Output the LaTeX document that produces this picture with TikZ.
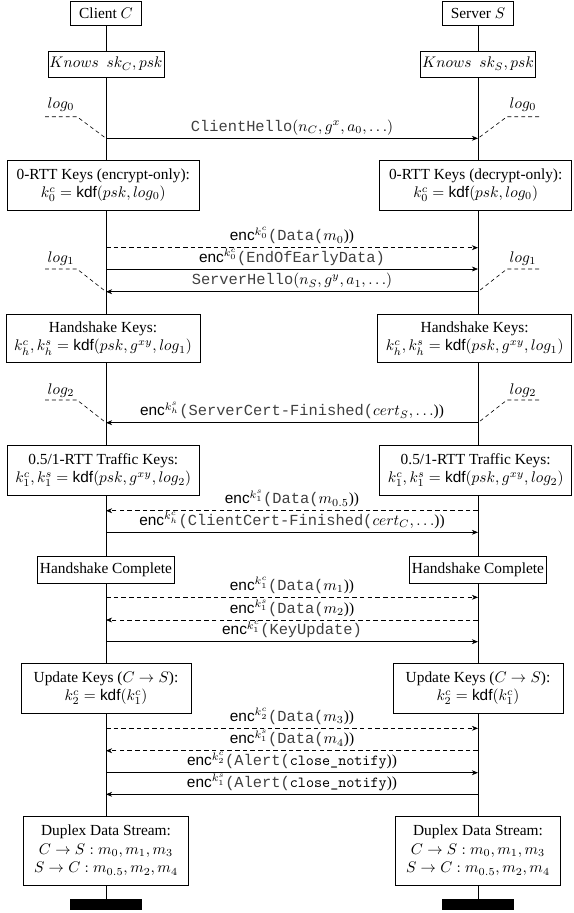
\documentclass[tikz,border=0pt]{standalone}
\usepackage[no-math]{fontspec}
\setmainfont{Liberation Serif}
\setsansfont{Liberation Sans}
\newfontfamily\courfont{Liberation Mono}
\usetikzlibrary{arrows.meta,backgrounds}
\newcommand\mtx[1]{\textcolor{black!75}{\courfont #1}}
\newcommand\encx[1]{$\textsf{enc}^{#1}$}
\begin{document}
\begin{tikzpicture}[x=0.65pt,y=-0.65pt,
  box/.style 2 args={draw, fill=white, align=center, inner sep=1pt,
    minimum width=#1*0.65pt, minimum height=#2*0.65pt},
  msg/.style={-{Stealth[length=4pt,width=3.2pt]}},
  dmsg/.style={msg, dash pattern=on 3pt off 2pt},
  logline/.style={dash pattern=on 2.5pt off 2pt},
  lbl/.style={midway, anchor=base, yshift=4.4pt, inner sep=0pt},
  loglbl/.style={anchor=base, inner sep=0pt},
  endbar/.style={fill=black, draw=black, inner sep=0pt,
    minimum width=71*0.65pt, minimum height=10*0.65pt}
]
\useasboundingbox (0,0) rectangle (573,913);

% instance heads and ends
\node[box={71}{24}] (C) at (106,13) {Client $C$};
\node[box={71}{24}] (S) at (478,13) {Server $S$};
\node[endbar] (CB) at (106,904) {};
\node[endbar] (SB) at (478,904) {};

% action boxes
\node[box={112}{26}] (kc) at (106,64) {$Knows\ \ sk_C, psk$};
\node[box={112}{26}] (ks) at (478,64) {$Knows\ \ sk_S, psk$};

\node[box={192}{50}] (zc) at (103.3,185) {0-RTT Keys (encrypt-only):\\ $k_0^c = \textsf{kdf}(psk, log_0)$};
\node[box={192}{50}] (zs) at (475.7,185) {0-RTT Keys (decrypt-only):\\ $k_0^c = \textsf{kdf}(psk, log_0)$};

\node[box={194}{48.5}] (hc) at (103,338.5) {Handshake Keys:\\ $k_h^c, k_h^s = \textsf{kdf}(psk, g^{xy}, log_1)$};
\node[box={194}{48.5}] (hs) at (474.7,338.5) {Handshake Keys:\\ $k_h^c, k_h^s = \textsf{kdf}(psk, g^{xy}, log_1)$};

\node[box={192}{50}] (tc) at (103.3,470) {0.5/1-RTT Traffic Keys:\\ $k_1^c, k_1^s = \textsf{kdf}(psk, g^{xy}, log_2)$};
\node[box={192}{50}] (ts) at (475.7,470) {0.5/1-RTT Traffic Keys:\\ $k_1^c, k_1^s = \textsf{kdf}(psk, g^{xy}, log_2)$};

\node[box={137}{27}] (dc) at (106,569.5) {Handshake Complete};
\node[box={137}{27}] (ds) at (478,569.5) {Handshake Complete};

\node[box={170}{50}] (uc) at (106,688.3) {Update Keys ($C \rightarrow S$):\\ $k_2^c = \textsf{kdf}(k_1^c)$};
\node[box={170}{50}] (us) at (478,688.3) {Update Keys ($C \rightarrow S$):\\ $k_2^c = \textsf{kdf}(k_1^c)$};

\node[box={165}{69}] (xc) at (106,850.5) {Duplex Data Stream:\\ $C \rightarrow S: m_0, m_1, m_3$\\ $S \rightarrow C: m_{0.5}, m_2, m_4$};
\node[box={165}{69}] (xs) at (478,850.5) {Duplex Data Stream:\\ $C \rightarrow S: m_0, m_1, m_3$\\ $S \rightarrow C: m_{0.5}, m_2, m_4$};

% lifelines behind the boxes
\begin{pgfonlayer}{background}
\draw (C.south) -- (CB.north);
\draw (S.south) -- (SB.north);
\end{pgfonlayer}

% message anchor points on the lifelines
\foreach \n/\y in {1/138.3, 2/247.7, 3/269, 4/291.7, 5/422.7, 6/510.7, 7/532.3,
                   8/597.3, 9/620, 10/641.7, 11/728.3, 12/750.7, 13/772.7, 14/794.3} {
  \coordinate (c\n) at (106,\y);
  \coordinate (s\n) at (478,\y);
}

% log markers
\foreach \k/\ly/\hy/\m in {0/108/116.7/1, 1/262/269/4, 2/394/400/5} {
  \node[loglbl] (logl\k) at (61,\ly) {$log_\k$};
  \node[loglbl] (logr\k) at (523,\ly) {$log_\k$};
  \coordinate (la\k) at (45,\hy);
  \coordinate (lb\k) at (77,\hy);
  \coordinate (ra\k) at (539,\hy);
  \coordinate (rb\k) at (507,\hy);
  \draw[logline] (la\k) -- (lb\k) -- (c\m);
  \draw[logline] (ra\k) -- (rb\k) -- (s\m);
}

% messages
\draw[msg]  (c1) -- (s1) node[lbl] {\mtx{ClientHello}$(n_C, g^x, a_0, \ldots)$};
\draw[dmsg] (c2) -- (s2) node[lbl] {\encx{k_0^c}\mtx{(Data(}$m_0$))};
\draw[msg]  (c3) -- (s3) node[lbl] {\encx{k_0^c}\mtx{(EndOfEarlyData)}};
\draw[msg]  (s4) -- (c4) node[lbl] {\mtx{ServerHello}$(n_S, g^y, a_1, \ldots)$};
\draw[msg]  (s5) -- (c5) node[lbl] {\encx{k_h^s}\mtx{(ServerCert-Finished(}$cert_S, \ldots$))};
\draw[dmsg] (s6) -- (c6) node[lbl] {\encx{k_1^s}\mtx{(Data(}$m_{0.5}$))};
\draw[msg]  (c7) -- (s7) node[lbl] {\encx{k_h^c}\mtx{(ClientCert-Finished(}$cert_C, \ldots$))};
\draw[dmsg] (c8) -- (s8) node[lbl] {\encx{k_1^c}\mtx{(Data(}$m_1$))};
\draw[dmsg] (s9) -- (c9) node[lbl] {\encx{k_1^s}\mtx{(Data(}$m_2$))};
\draw[msg]  (c10) -- (s10) node[lbl] {\encx{k_1^c}\mtx{(KeyUpdate)}};
\draw[dmsg] (c11) -- (s11) node[lbl] {\encx{k_2^c}\mtx{(Data(}$m_3$))};
\draw[dmsg] (s12) -- (c12) node[lbl] {\encx{k_1^s}\mtx{(Data(}$m_4$))};
\draw[msg]  (c13) -- (s13) node[lbl] {\encx{k_2^c}\mtx{(Alert(}\texttt{close\_notify}))};
\draw[msg]  (s14) -- (c14) node[lbl] {\encx{k_1^s}\mtx{(Alert(}\texttt{close\_notify}))};
\end{tikzpicture}
\end{document}
